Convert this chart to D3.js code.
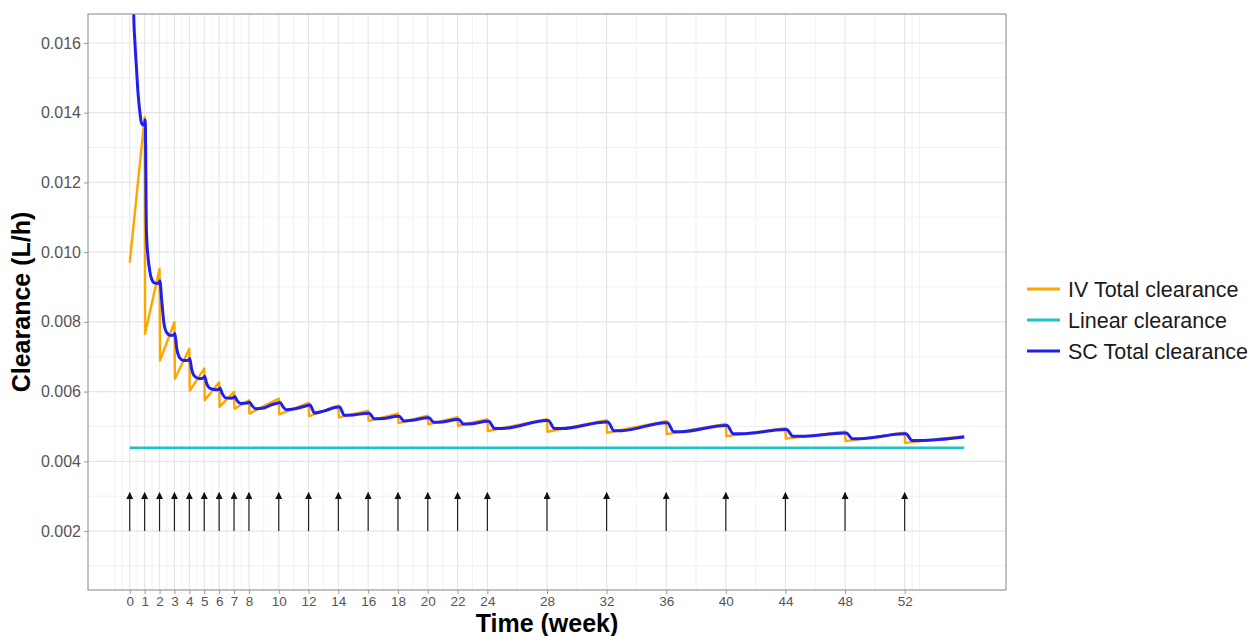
<!DOCTYPE html>
<html>
<head>
<meta charset="utf-8">
<script src="https://cdn.jsdelivr.net/npm/d3@7"></script>
<style>
  html, body { margin: 0; padding: 0; background: #ffffff; }
  svg { display: block; font-family: "Liberation Sans", Arial, Helvetica, sans-serif; }
</style>
</head>
<body>
<svg id="chart" width="1255" height="636"></svg>
<script>
// Clearance profiles (L/h) over time (weeks)
const ivTime  = [0, 1, 1.03, 2, 2.03, 3, 3.03, 4, 4.03, 5, 5.03, 6, 6.03, 7, 7.03, 8, 8.03,
                 10, 10.03, 12, 12.03, 14, 14.03, 16, 16.03, 18, 18.03, 20, 20.03, 22, 22.03, 24, 24.03,
                 28, 28.03, 32, 32.03, 36, 36.03, 40, 40.03, 44, 44.03, 48, 48.03, 52, 52.03, 56];
const ivValue = [0.0097, 0.01387, 0.00766, 0.00952, 0.00689, 0.00799, 0.00637, 0.00723, 0.00603,
                 0.00666, 0.00575, 0.00627, 0.00556, 0.00599, 0.00551, 0.00575, 0.00537,
                 0.00580, 0.00535, 0.00568, 0.00530, 0.00560, 0.00526, 0.00545, 0.00516,
                 0.00537, 0.00510, 0.00531, 0.00506, 0.00527, 0.00502, 0.00521, 0.00487,
                 0.00521, 0.00485, 0.00518, 0.00482, 0.00515, 0.00478, 0.00507, 0.00472,
                 0.00495, 0.00465, 0.00485, 0.00458, 0.00482, 0.00453, 0.00472];

const scTime  = [0.20, 0.27, 0.35, 0.45, 0.56, 0.67, 0.78, 0.90, 1.00, 1.04, 1.12, 1.23, 1.34, 1.45, 1.65, 1.95,
                 2.02, 2.15, 2.30, 2.50, 2.75, 2.95, 3.03, 3.15, 3.35, 3.60, 3.95, 4.03, 4.15, 4.35, 4.70, 4.97,
                 5.03, 5.15, 5.40, 5.80, 6.00, 6.05, 6.20, 6.45, 6.80, 7.00, 7.05, 7.20, 7.45, 7.90, 8.03, 8.20,
                 8.45, 9.00, 9.50, 10.00, 10.08, 10.30, 10.50, 11.00, 12.00, 12.08, 12.40, 13.00, 14.00, 14.08,
                 14.40, 15.00, 16.00, 16.08, 16.40, 17.00, 18.00, 18.08, 18.40, 19.00, 20.00, 20.08, 20.40, 21.00,
                 22.00, 22.08, 22.40, 23.00, 24.00, 24.08, 24.50, 25.00, 28.00, 28.08, 28.50, 29.00, 32.00, 32.08,
                 32.50, 33.00, 36.00, 36.08, 36.50, 37.00, 40.00, 40.08, 40.50, 41.00, 44.00, 44.08, 44.50, 45.00,
                 48.00, 48.08, 48.50, 49.00, 52.00, 52.08, 52.50, 53.00, 56.00];
const scValue = [0.0190, 0.0168, 0.0160, 0.0153, 0.01455, 0.01406, 0.01372, 0.01365, 0.01368, 0.01380, 0.01062,
                 0.00985, 0.00947, 0.00925, 0.00912, 0.00910,
                 0.00918, 0.00860, 0.00795, 0.00768, 0.00761, 0.00762, 0.00767, 0.00725, 0.00697, 0.00689, 0.00690,
                 0.00695, 0.00665, 0.00644, 0.00637, 0.00640,
                 0.00644, 0.00625, 0.00609, 0.00605, 0.00607, 0.00610, 0.00595, 0.00582, 0.00581, 0.00584, 0.00586,
                 0.00574, 0.00566, 0.00567, 0.00570, 0.00560,
                 0.00551, 0.00553, 0.00562, 0.00568, 0.00569, 0.00556, 0.00548, 0.00550, 0.00561, 0.00562, 0.00539,
                 0.00544, 0.00556, 0.00556,
                 0.00532, 0.00533, 0.00538, 0.00538, 0.00522, 0.00523, 0.00529, 0.00529, 0.00516, 0.00518, 0.00525,
                 0.00525, 0.00512, 0.00513,
                 0.00520, 0.00520, 0.00507, 0.00508, 0.00515, 0.00515, 0.00494, 0.00494, 0.00517, 0.00517, 0.00494,
                 0.00494, 0.00513, 0.00513,
                 0.00488, 0.00488, 0.00511, 0.00511, 0.00485, 0.00485, 0.00503, 0.00503, 0.00479, 0.00479, 0.00491,
                 0.00491, 0.00472, 0.00472,
                 0.00481, 0.00481, 0.00465, 0.00465, 0.00479, 0.00479, 0.00460, 0.00460, 0.00470];

const linearTime  = [0, 56];
const linearValue = [0.00439, 0.00439];

// Dosing times (weeks), shown as arrows
const doseTimes = [0, 1, 2, 3, 4, 5, 6, 7, 8, 10, 12, 14, 16, 18, 20, 22, 24, 28, 32, 36, 40, 44, 48, 52];
const arrowFrom = 0.0020;
const arrowTo   = 0.0031;

// Axis breaks
const xTicks = [0, 1, 2, 3, 4, 5, 6, 7, 8, 10, 12, 14, 16, 18, 20, 22, 24, 28, 32, 36, 40, 44, 48, 52];
const yTicks = [0.002, 0.004, 0.006, 0.008, 0.010, 0.012, 0.014, 0.016];

const seriesNames  = ["IV Total clearance", "Linear clearance", "SC Total clearance"];
const seriesColors = ["#FFA500", "#1EC3C6", "#2020EE"];

// ---- layout ----
const svg = d3.select("#chart");
const panel = { left: 88, right: 1006, top: 14, bottom: 590 };

const x = d3.scaleLinear().domain([-2.8, 58.8]).range([panel.left, panel.right]);
const y = d3.scaleLinear().domain([0.00031, 0.01683]).range([panel.bottom, panel.top]);

// minor breaks between major breaks, extended by one step at each end
function minorBreaks(b, step, dom) {
  const ext = [b[0] - step, ...b, b[b.length - 1] + step];
  const out = [];
  for (let i = 0; i < ext.length - 1; i++) out.push((ext[i] + ext[i + 1]) / 2);
  out.push(ext[0], ext[ext.length - 1]);
  return out.filter(v => v > dom[0] && v < dom[1] && !b.some(t => Math.abs(t - v) < 1e-9));
}
const xMinor = minorBreaks(xTicks, 1, x.domain());
const yMinor = minorBreaks(yTicks, 0.002, y.domain());

svg.append("rect")
  .attr("x", panel.left).attr("y", panel.top)
  .attr("width", panel.right - panel.left).attr("height", panel.bottom - panel.top)
  .attr("fill", "#ffffff");

const grid = svg.append("g");
grid.selectAll("line.xminor").data(xMinor).join("line")
  .attr("x1", d => x(d)).attr("x2", d => x(d))
  .attr("y1", panel.top).attr("y2", panel.bottom)
  .attr("stroke", "#f2f2f2").attr("stroke-width", 1);
grid.selectAll("line.yminor").data(yMinor).join("line")
  .attr("y1", d => y(d)).attr("y2", d => y(d))
  .attr("x1", panel.left).attr("x2", panel.right)
  .attr("stroke", "#f2f2f2").attr("stroke-width", 1);
grid.selectAll("line.xmajor").data(xTicks).join("line")
  .attr("x1", d => x(d)).attr("x2", d => x(d))
  .attr("y1", panel.top).attr("y2", panel.bottom)
  .attr("stroke", "#e6e6e6").attr("stroke-width", 1.1);
grid.selectAll("line.ymajor").data(yTicks).join("line")
  .attr("y1", d => y(d)).attr("y2", d => y(d))
  .attr("x1", panel.left).attr("x2", panel.right)
  .attr("stroke", "#e6e6e6").attr("stroke-width", 1.1);

// clip everything drawn inside the panel
svg.append("clipPath").attr("id", "panel-clip")
  .append("rect")
  .attr("x", panel.left).attr("y", panel.top)
  .attr("width", panel.right - panel.left).attr("height", panel.bottom - panel.top);

const plot = svg.append("g").attr("clip-path", "url(#panel-clip)");

const line = d3.line().x(d => x(d[0])).y(d => y(d[1]));
const smooth = d3.line().x(d => x(d[0])).y(d => y(d[1])).curve(d3.curveMonotoneX);

const ivData = ivTime.map((t, i) => [t, ivValue[i]]);
const scData = scTime.map((t, i) => [t, scValue[i]]);
const linData = linearTime.map((t, i) => [t, linearValue[i]]);

plot.append("path").datum(ivData)
  .attr("d", line).attr("fill", "none")
  .attr("stroke", seriesColors[0]).attr("stroke-width", 2.4).attr("stroke-linejoin", "round");
plot.append("path").datum(linData)
  .attr("d", line).attr("fill", "none")
  .attr("stroke", seriesColors[1]).attr("stroke-width", 2.4);
plot.append("path").datum(scData)
  .attr("d", smooth).attr("fill", "none")
  .attr("stroke", seriesColors[2]).attr("stroke-width", 3).attr("stroke-linejoin", "round");

// dosing arrows
svg.append("defs").append("marker")
  .attr("id", "arrowhead")
  .attr("viewBox", "0 0 10 10").attr("refX", 9).attr("refY", 5)
  .attr("markerWidth", 7).attr("markerHeight", 7)
  .attr("markerUnits", "userSpaceOnUse")
  .attr("orient", "auto")
  .append("path").attr("d", "M0,0 L10,5 L0,10 Z").attr("fill", "#111");

plot.selectAll("line.dose").data(doseTimes).join("line")
  .attr("x1", d => x(d)).attr("x2", d => x(d))
  .attr("y1", y(arrowFrom)).attr("y2", y(arrowTo))
  .attr("stroke", "#222").attr("stroke-width", 1.2)
  .attr("marker-end", "url(#arrowhead)");

// panel border
svg.append("rect")
  .attr("x", panel.left).attr("y", panel.top)
  .attr("width", panel.right - panel.left).attr("height", panel.bottom - panel.top)
  .attr("fill", "none").attr("stroke", "#9a9a9a").attr("stroke-width", 1.2);

// axes
const xAxis = svg.append("g")
  .attr("transform", `translate(0,${panel.bottom})`)
  .call(d3.axisBottom(x).tickValues(xTicks).tickFormat(d3.format("d")).tickSize(4).tickPadding(2));
const yAxis = svg.append("g")
  .attr("transform", `translate(${panel.left},0)`)
  .call(d3.axisLeft(y).tickValues(yTicks).tickFormat(d3.format(".3f")).tickSize(4).tickPadding(3));

[xAxis, yAxis].forEach(g => {
  g.select(".domain").remove();
  g.selectAll(".tick line").attr("stroke", "#9a9a9a");
  g.selectAll(".tick text").attr("fill", "#555").attr("font-family", "Liberation Sans, Arial, sans-serif");
});
xAxis.selectAll(".tick text").attr("font-size", 13.5);
yAxis.selectAll(".tick text").attr("font-size", 16);

// axis titles
svg.append("text")
  .attr("x", (panel.left + panel.right) / 2).attr("y", 632)
  .attr("text-anchor", "middle")
  .attr("font-size", 25).attr("font-weight", "bold").attr("fill", "#000")
  .text("Time (week)");
svg.append("text")
  .attr("transform", `translate(30,${(panel.top + panel.bottom) / 2}) rotate(-90)`)
  .attr("text-anchor", "middle")
  .attr("font-size", 25).attr("font-weight", "bold").attr("fill", "#000")
  .text("Clearance (L/h)");

// legend
const legend = svg.append("g").attr("transform", "translate(1027,289)");
seriesNames.forEach((name, i) => {
  const row = legend.append("g").attr("transform", `translate(0,${i * 31})`);
  row.append("line").attr("x1", 0).attr("x2", 33).attr("y1", 0).attr("y2", 0)
    .attr("stroke", seriesColors[i]).attr("stroke-width", 3);
  row.append("text").attr("x", 41).attr("y", 0).attr("dy", "0.35em")
    .attr("font-size", 21.5).attr("fill", "#1a1a1a")
    .text(name);
});
</script>
</body>
</html>
